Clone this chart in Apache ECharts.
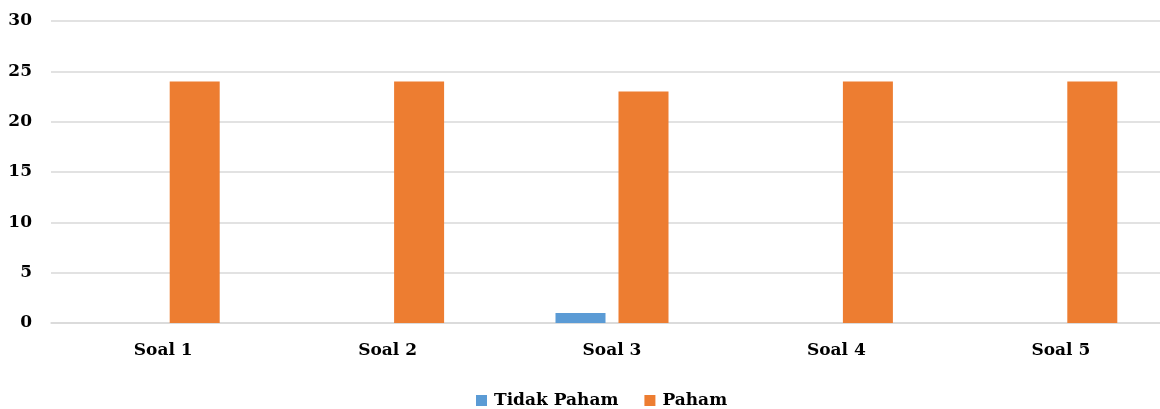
<!DOCTYPE html>
<html>
<head>
<meta charset="utf-8">
<script src="https://cdn.jsdelivr.net/npm/echarts@6/dist/echarts.min.js"></script>
<style>
  html, body { margin: 0; padding: 0; background: #fff; overflow: hidden; }
  /* plot area runs slightly past the right edge of the window */
  #chart { width: 1180px; height: 409px; }
</style>
</head>
<body>
<div id="chart"></div>
<script>
const categories = ['Soal 1', 'Soal 2', 'Soal 3', 'Soal 4', 'Soal 5'];
const tidakPaham = [0, 0, 1, 0, 0];
const paham = [24, 24, 23, 24, 24];
const yTicks = { min: 0, max: 30, interval: 5 };

const font = '"DejaVu Serif", "Liberation Serif", serif';
const labelStyle = { fontFamily: font, fontWeight: 'bold', fontSize: 17, color: '#000' };
const chart = echarts.init(document.getElementById('chart'));
chart.setOption({
  animation: false,
  textStyle: { fontFamily: font },
  legend: {
    top: 392,
    left: 476,
    padding: 0,
    itemWidth: 11,
    itemHeight: 11,
    itemGap: 26,
    icon: 'rect',
    textStyle: Object.assign({ padding: [0, 0, 0, 2] }, labelStyle),
    data: ['Tidak Paham', 'Paham']
  },
  grid: { left: 51, top: 21, width: 1122, height: 302, containLabel: false },
  xAxis: {
    type: 'category',
    data: categories,
    axisTick: { show: false },
    axisLine: { lineStyle: { color: '#D9D9D9', width: 1.5 } },
    axisLabel: Object.assign({ margin: 19 }, labelStyle)
  },
  yAxis: {
    type: 'value',
    min: yTicks.min,
    max: yTicks.max,
    interval: yTicks.interval,
    axisLine: { show: false },
    axisTick: { show: false },
    splitLine: { lineStyle: { color: '#D9D9D9', width: 1.5 } },
    axisLabel: Object.assign({ margin: 19 }, labelStyle)
  },
  series: [
    { name: 'Tidak Paham', type: 'bar', data: tidakPaham, barWidth: 50, barGap: '26%', itemStyle: { color: '#5B9BD5' } },
    { name: 'Paham', type: 'bar', data: paham, barWidth: 50, itemStyle: { color: '#ED7D31' } }
  ]
});
</script>
</body>
</html>
